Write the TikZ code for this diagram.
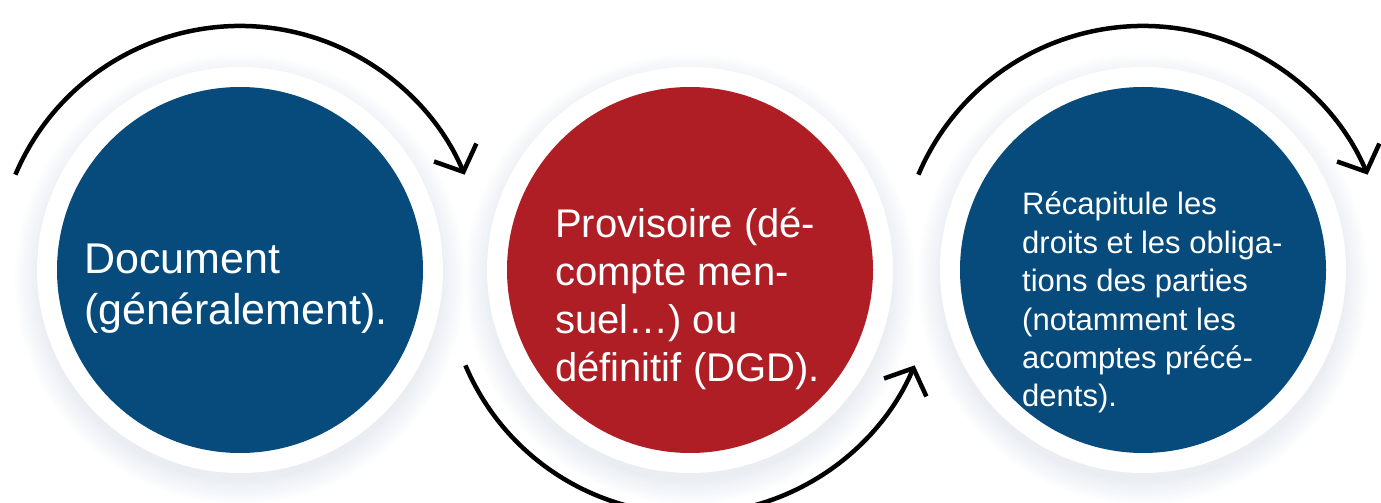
\documentclass[tikz,border=0pt]{standalone}
\usepackage{fontspec}
\setmainfont{Liberation Sans}
\usetikzlibrary{arrows.meta}

\definecolor{stepblue}{HTML}{064B7B}
\definecolor{stepred}{HTML}{AF1E24}
\definecolor{haze}{HTML}{9AAFC8}

\begin{document}
\begin{tikzpicture}[x=1pt,y=1pt,
    ring/.style={circle,fill=white,minimum size=406pt,inner sep=0pt},
    disc/.style={circle,minimum size=366pt,inner sep=0pt},
    label text/.style={text=white,align=left,inner sep=0pt,anchor=base west},
    cycle arrow/.style={line width=4.5pt,-{Straight Barb[length=21pt,width=46pt]}}]
  \useasboundingbox (0,0) rectangle (1381,503);

  % soft shadows under the rings
  \foreach \cx in {240,690,1143}
    \foreach \i in {1,...,10}
      \fill[haze,opacity=0.022] (\cx,224) circle ({200+2.5*\i});

  % white rings
  \node[ring] (r1) at (240,233) {};
  \node[ring] (r2) at (690,233) {};
  \node[ring] (r3) at (1143,233) {};

  % coloured discs
  \node[disc,fill=stepblue] (c1) at (r1) {};
  \node[disc,fill=stepred] (c2) at (r2) {};
  \node[disc,fill=stepblue] (c3) at (r3) {};

  % texts (anchored on the last line)
  \node[label text,font=\fontsize{43}{51}\selectfont] (t1) at (84,178)
    {Document\\(généralement).};
  \node[label text,font=\fontsize{40}{48}\selectfont] (t2) at (555,121)
    {Provisoire (dé-\\compte men-\\suel…) ou\\définitif (DGD).};
  \node[label text,font=\fontsize{31}{38.4}\selectfont] (t3) at (1022,96)
    {Récapitule les\\droits et les obliga-\\tions des parties\\(notamment les\\acomptes précé-\\dents).};

  % arrows around the discs
  \draw[cycle arrow] ([shift={(157:244)}]c1.center) arc (157:23:244);
  \draw[cycle arrow] ([shift={(203:244)}]c2.center) arc (203:337:244);
  \draw[cycle arrow] ([shift={(157:244)}]c3.center) arc (157:23:244);
\end{tikzpicture}
\end{document}
